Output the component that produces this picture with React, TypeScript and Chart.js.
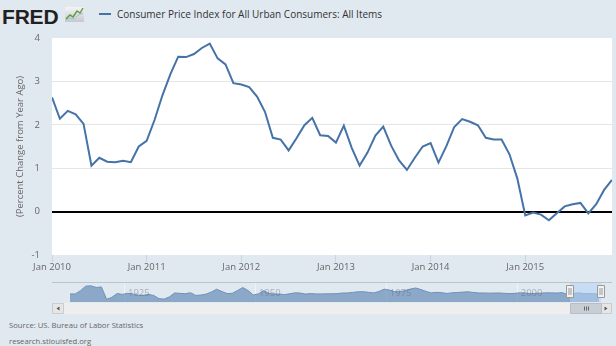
import React, { useEffect, useRef } from "react";
import { Chart, registerables } from "chart.js";

Chart.register(...registerables);

// ---------- DATA ----------
const seriesName = "Consumer Price Index for All Urban Consumers: All Items";
const yAxisTitle = "(Percent Change from Year Ago)";
const xTickLabels = ["Jan 2010", "Jan 2011", "Jan 2012", "Jan 2013", "Jan 2014", "Jan 2015"];
const yMin = -1;
const yMax = 4;

// monthly CPI, % change from a year ago, Jan 2010 .. Dec 2015
const cpi2010 = [2.63, 2.14, 2.32, 2.24, 2.02, 1.06, 1.24, 1.15, 1.14, 1.17, 1.14, 1.5];
const cpi2011 = [1.63, 2.11, 2.68, 3.16, 3.57, 3.56, 3.63, 3.77, 3.87, 3.53, 3.39, 2.96];
const cpi2012 = [2.93, 2.87, 2.65, 2.3, 1.7, 1.66, 1.41, 1.69, 1.99, 2.16, 1.76, 1.74];
const cpi2013 = [1.59, 1.98, 1.47, 1.06, 1.36, 1.75, 1.96, 1.52, 1.18, 0.96, 1.24, 1.5];
const cpi2014 = [1.58, 1.13, 1.51, 1.95, 2.13, 2.07, 1.99, 1.7, 1.66, 1.66, 1.32, 0.76];
const cpi2015 = [-0.09, -0.02, -0.07, -0.2, -0.04, 0.12, 0.17, 0.2, -0.04, 0.17, 0.5, 0.73];
const cpiYoY = [...cpi2010, ...cpi2011, ...cpi2012, ...cpi2013, ...cpi2014, ...cpi2015];

// navigator: yearly % change, 1914 .. 2015
const navStartYear = 1914;
const navValues = [
  1.0, 1.0, 7.9, 17.4, 18.0, 14.6, 15.6, -10.5, -6.1, 1.8,
  0.0, 2.3, 1.1, -1.7, -1.7, 0.0, -2.3, -9.0, -9.9, -5.1,
  3.1, 2.2, 1.5, 3.6, -2.1, -1.4, 0.7, 5.0, 10.9, 6.1,
  1.7, 2.3, 8.3, 14.4, 8.1, -1.2, 1.3, 7.9, 1.9, 0.8,
  0.7, -0.4, 1.5, 3.3, 2.8, 0.7, 1.7, 1.0, 1.0, 1.3,
  1.3, 1.6, 2.9, 3.1, 4.2, 5.5, 5.7, 4.4, 3.2, 6.2,
  11.0, 9.1, 5.8, 6.5, 7.6, 11.3, 13.5, 10.3, 6.2, 3.2,
  4.3, 3.6, 1.9, 3.6, 4.1, 4.8, 5.4, 4.2, 3.0, 3.0,
  2.6, 2.8, 3.0, 2.3, 1.6, 2.2, 3.4, 2.8, 1.6, 2.3,
  2.7, 3.4, 3.2, 2.8, 3.8, -0.4, 1.6, 3.2, 2.1, 1.5,
  1.6, 0.1,
];
const navYears = navValues.map((_, i) => navStartYear + i);
const navTickYears = [1925, 1950, 1975, 2000];
const navRange = [1911.06, 2018.0];
const selectedRange = [2010.0, 2015.92];

const sourceLine = "Source: US. Bureau of Labor Statistics";
const siteLine = "research.stlouisfed.org";

// ---------- STYLE ----------
const FONT = "'Open Sans'";
const BG = "#e1e9f0";
const LINE = "#4572a7";

Chart.defaults.font.family = FONT;

export default function App() {
  const mainRef = useRef<HTMLCanvasElement>(null);
  const navRef = useRef<HTMLCanvasElement>(null);

  useEffect(() => {
    const plotBg = {
      id: "plotBg",
      beforeDraw(chart: any) {
        const { ctx, chartArea: a } = chart;
        ctx.save();
        ctx.fillStyle = "#ffffff";
        ctx.fillRect(a.left, a.top, a.right - a.left, a.bottom - a.top);
        ctx.restore();
      },
    };

    const main = new Chart(mainRef.current!, {
      type: "line",
      data: {
        datasets: [
          {
            label: seriesName,
            data: cpiYoY.map((v, i) => ({ x: i, y: v })),
            borderColor: LINE,
            borderWidth: 2,
            pointRadius: 0,
            tension: 0,
            fill: false,
          },
        ],
      },
      options: {
        animation: false,
        responsive: false,
        layout: { padding: { top: 38, right: 4, left: 0, bottom: 0 } },
        plugins: { legend: { display: false }, tooltip: { enabled: false } },
        scales: {
          x: {
            type: "linear",
            min: 0,
            max: cpiYoY.length - 1,
            afterFit(scale: any) {
              scale.height = 25;
            },
            border: { display: false },
            grid: {
              drawOnChartArea: false,
              drawTicks: true,
              tickLength: 7,
              tickColor: "#c9d4e0",
            },
            ticks: {
              stepSize: 12,
              includeBounds: false,
              autoSkip: false,
              maxRotation: 0,
              padding: 0,
              color: "#666666",
              font: { size: 9.5 },
              callback: (v: any) => xTickLabels[Math.round(Number(v) / 12)] ?? "",
            },
          },
          y: {
            min: yMin,
            max: yMax,
            afterFit(scale: any) {
              scale.width = 52;
            },
            border: { display: false },
            grid: {
              drawTicks: false,
              color: (c: any) =>
                c.tick.value === 0
                  ? "#000000"
                  : c.tick.value === yMin || c.tick.value === yMax
                  ? "rgba(0,0,0,0)"
                  : "#e6e6e6",
              lineWidth: (c: any) => (c.tick.value === 0 ? 2 : 1),
            },
            ticks: {
              stepSize: 1,
              padding: 12,
              color: "#666666",
              font: { size: 9.5 },
            },
            title: {
              display: true,
              text: yAxisTitle,
              color: "#666666",
              font: { size: 9.5 },
              padding: { top: 15, bottom: 0 },
            },
          },
        },
      },
      plugins: [plotBg],
    });

    const navDecor = {
      id: "navDecor",
      afterDatasetsDraw(chart: any) {
        const { ctx, chartArea: a, scales } = chart;
        const x = scales.x;
        const W = chart.width;
        ctx.save();
        // year labels
        ctx.font = `9.5px ${FONT}`;
        ctx.fillStyle = "rgba(90,100,118,0.45)";
        ctx.textBaseline = "middle";
        ctx.textAlign = "left";
        navTickYears.forEach((yr) => {
          ctx.fillText(String(yr), x.getPixelForValue(yr) + 3, (a.top + a.bottom) / 2 + 1);
        });
        // selection mask
        const x1 = x.getPixelForValue(selectedRange[0]);
        const x2 = x.getPixelForValue(selectedRange[1]);
        ctx.fillStyle = "rgba(180,210,248,0.55)";
        ctx.fillRect(x1, a.top, x2 - x1, a.bottom - a.top);
        // top outline
        ctx.strokeStyle = "#b9c5d3";
        ctx.lineWidth = 1;
        ctx.beginPath();
        ctx.moveTo(0, a.top - 0.5);
        ctx.lineTo(W, a.top - 0.5);
        ctx.stroke();
        // handles
        [x1, x2].forEach((hx) => {
          const h0 = Math.round(hx) - 3.5;
          ctx.fillStyle = "#f2f2f2";
          ctx.strokeStyle = "#999999";
          ctx.beginPath();
          ctx.rect(h0, a.top + 2.5, 7, 12);
          ctx.fill();
          ctx.stroke();
          ctx.beginPath();
          ctx.moveTo(h0 + 2.5, a.top + 5);
          ctx.lineTo(h0 + 2.5, a.top + 12);
          ctx.moveTo(h0 + 4.5, a.top + 5);
          ctx.lineTo(h0 + 4.5, a.top + 12);
          ctx.stroke();
        });
        // scrollbar
        const sy = a.bottom + 1;
        const sh = 11;
        ctx.fillStyle = "#eeeeee";
        ctx.fillRect(0, sy, W, sh);
        const btn = (bx: number, dir: number) => {
          ctx.fillStyle = "#e6e6e6";
          ctx.strokeStyle = "#cccccc";
          ctx.beginPath();
          ctx.rect(bx + 0.5, sy + 0.5, 11, sh - 1);
          ctx.fill();
          ctx.stroke();
          const cx = bx + 6;
          const cy = sy + sh / 2;
          ctx.fillStyle = "#555555";
          ctx.beginPath();
          ctx.moveTo(cx - 1.5 * dir, cy);
          ctx.lineTo(cx + 1.5 * dir, cy - 2);
          ctx.lineTo(cx + 1.5 * dir, cy + 2);
          ctx.closePath();
          ctx.fill();
        };
        btn(0, 1);
        btn(W - 12, -1);
        // thumb
        ctx.fillStyle = "#c9ced5";
        ctx.strokeStyle = "#b8bec6";
        ctx.beginPath();
        ctx.rect(Math.round(x1) + 0.5, sy + 0.5, Math.round(x2 - x1), sh - 1);
        ctx.fill();
        ctx.stroke();
        const tc = Math.round((x1 + x2) / 2);
        ctx.strokeStyle = "#666666";
        ctx.beginPath();
        [-2, 0, 2].forEach((d) => {
          ctx.moveTo(tc + d + 0.5, sy + 3.5);
          ctx.lineTo(tc + d + 0.5, sy + 7.5);
        });
        ctx.stroke();
        ctx.restore();
      },
    };

    const nav = new Chart(navRef.current!, {
      type: "line",
      data: {
        datasets: [
          {
            data: navValues.map((v, i) => ({ x: navYears[i] + 0.5, y: v })),
            borderColor: "#6d8fba",
            borderWidth: 1,
            backgroundColor: "rgba(69,114,167,0.55)",
            fill: "start",
            pointRadius: 0,
            tension: 0,
          },
        ],
      },
      options: {
        animation: false,
        responsive: false,
        layout: { padding: { top: 1, bottom: 13, left: 0, right: 0 } },
        plugins: { legend: { display: false }, tooltip: { enabled: false } },
        scales: {
          x: {
            type: "linear",
            min: navRange[0],
            max: navRange[1],
            afterBuildTicks(scale: any) {
              scale.ticks = navTickYears.map((v) => ({ value: v }));
            },
            afterFit(scale: any) {
              scale.height = 0;
            },
            border: { display: false },
            grid: { drawTicks: false, color: "rgba(255,255,255,0.45)" },
            ticks: { display: false },
          },
          y: {
            display: false,
            min: -16,
            max: 24,
          },
        },
      },
      plugins: [navDecor],
    });

    return () => {
      main.destroy();
      nav.destroy();
    };
  }, []);

  const txt = (extra: React.CSSProperties): React.CSSProperties => ({
    position: "absolute",
    fontFamily: FONT,
    whiteSpace: "nowrap",
    ...extra,
  });

  return (
    <div
      style={{
        position: "absolute",
        left: 0,
        top: 0,
        width: 616,
        height: 346,
        background: BG,
        overflow: "hidden",
      }}
    >
      <div
        style={txt({
          left: 2,
          top: 5.5,
          fontFamily: "'Liberation Sans'",
          fontWeight: 700,
          fontSize: 21,
          lineHeight: "21px",
          color: "#231f20",
          letterSpacing: -0.2,
        })}
      >
        FRED
      </div>
      <svg width="19" height="15" style={{ position: "absolute", left: 65, top: 7 }}>
        <defs>
          <linearGradient id="fredg" x1="0" y1="0" x2="0" y2="1">
            <stop offset="0" stopColor="#f4f4f4" />
            <stop offset="1" stopColor="#c6c9cc" />
          </linearGradient>
        </defs>
        <rect width="19" height="15" fill="url(#fredg)" />
        <polyline points="1,13 5,11 9,12 13,8 18,6" fill="none" stroke="#a8bfd9" strokeWidth="1" />
        <polyline points="1,12 5,8 8,10 12,4 15,6 18,1" fill="none" stroke="#5a9e3c" strokeWidth="1.4" />
      </svg>
      <div
        style={{
          position: "absolute",
          left: 99,
          top: 13,
          width: 12,
          height: 2,
          background: LINE,
        }}
      />
      <div style={txt({ left: 117, top: 7, fontSize: 10, lineHeight: "14px", color: "#333333" })}>
        {seriesName}
      </div>
      <canvas
        ref={mainRef}
        width={616}
        height={280}
        style={{ position: "absolute", left: 0, top: 0, width: 616, height: 280 }}
      />
      <canvas
        ref={navRef}
        width={560}
        height={33}
        style={{ position: "absolute", left: 52, top: 282, width: 560, height: 33 }}
      />
      <div style={txt({ left: 9, top: 320, fontSize: 7.7, lineHeight: "11px", color: "#666666" })}>
        {sourceLine}
      </div>
      <div style={txt({ left: 9, top: 336, fontSize: 7.7, lineHeight: "11px", color: "#666666" })}>
        {siteLine}
      </div>
    </div>
  );
}
